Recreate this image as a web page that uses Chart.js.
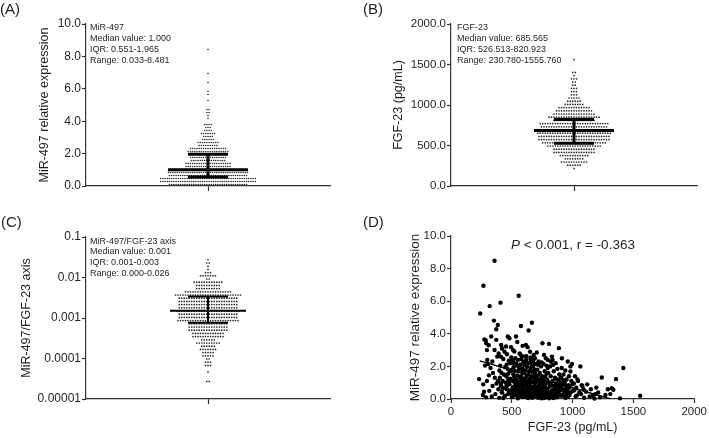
<!DOCTYPE html>
<html><head><meta charset="utf-8">
<script src="https://cdn.jsdelivr.net/npm/chart.js@4.4.1/dist/chart.umd.min.js"></script>
<style>
html,body{margin:0;padding:0;background:#fff;}
#wrap{position:relative;width:709px;height:438px;overflow:hidden;font-family:"Liberation Sans",Arial,sans-serif;color:#1f1f1f;}
canvas{position:absolute;}
.lbl{position:absolute;font-size:15px;line-height:18px;white-space:nowrap;}
.ann{position:absolute;font-size:9px;line-height:11px;white-space:nowrap;}
.ptxt{position:absolute;font-size:13.5px;line-height:16px;white-space:nowrap;text-align:center;width:220px;}
</style></head><body>
<div id="wrap">
  <canvas id="cA" width="340" height="205" style="left:0;top:0"></canvas>
  <canvas id="cB" width="344" height="205" style="left:365px;top:0"></canvas>
  <canvas id="cC" width="340" height="205" style="left:0;top:212px"></canvas>
  <canvas id="cD" width="344" height="226" style="left:365px;top:212px"></canvas>
  <div class="lbl" style="left:0;top:0">(A)</div>
  <div class="lbl" style="left:363px;top:0">(B)</div>
  <div class="lbl" style="left:1px;top:213px">(C)</div>
  <div class="lbl" style="left:363px;top:213px">(D)</div>
  <div class="ann" style="left:90px;top:21.5px">MiR-497<br>Median value: 1.000<br>IQR: 0.551-1.965<br>Range: 0.033-8.481</div>
  <div class="ann" style="left:457px;top:21.5px">FGF-23<br>Median value: 685.565<br>IQR: 526.513-820.923<br>Range: 230.780-1555.760</div>
  <div class="ann" style="left:90px;top:235.6px;line-height:10.7px">MiR-497/FGF-23 axis<br>Median value: 0.001<br>IQR: 0.001-0.003<br>Range: 0.000-0.026</div>
  <div class="ptxt" style="left:463px;top:237px"><i>P</i> &lt; 0.001, r = -0.363</div>
</div>
<script>
// ---------- DATA ----------
const fgfValues = [
 267,240,275,285,290,296,298,280,230.78,295,265,272,262,288,
 358,318,353,385,372,331,372,310,358,392,380,340,305,325,398,345,312,360,388,375,342,390,315,365,335,396,
 407,467,480,413,453,494,420,440,460,410,430,475,490,458,405,445,465,498,485,415,470,435,455,402,488,470,425,478,450,412,480,462,410,496,440,428,460,475,490,418,420,470,445,500,430,
 557,575,535,545,589,510,521,565,580,530,550,595,505,572,540,570,515,588,560,585,526,555,598,590,512,545,575,520,565,598,535,580,510,550,590,525,560,505,540,582,570,515,595,532,555,508,530,568,585,545,520,578,503,562,548,592,518,538,566,528,500,583,553,535,572,508,590,550,
 665,638,616,630,650,680,610,690,620,660,640,695,605,675,625,655,685,615,645,670,600,635,690,660,620,680,650,610,695,640,665,625,685,605,655,630,675,615,645,690,620,660,600,680,635,670,612,650,695,625,665,640,685,608,655,632,672,618,648,688,603,662,628,678,642,698,612,652,682,622,668,636,692,658,646,
 752,705,780,720,760,740,795,710,770,730,785,715,750,775,700,745,790,725,765,705,755,735,780,715,760,740,795,720,770,730,785,710,750,775,702,745,790,725,765,708,755,735,782,718,762,742,798,722,772,732,788,712,752,778,704,748,792,728,768,706,758,738,784,716,764,744,726,758,
 806,887,830,860,815,875,845,800,890,820,855,880,835,890,805,865,835,895,825,850,870,810,840,885,860,820,845,875,830,895,855,815,880,840,865,828,898,852,812,878,838,868,842,808,858,822,872,848,
 960,982,910,940,982,925,970,905,950,925,990,935,915,998,965,945,908,975,955,995,920,930,955,912,985,948,930,968,975,910,938,960,940,902,
 1064,1020,1040,1045,1010,1075,1080,1030,1090,1015,1005,1055,1070,1035,1025,1095,
 1120,1150,1110,1186,1165,1140,1180,1195,
 1240,1290,1210,1270,1225,
 1357,1322,1335,1390,1310,
 1417,1555.76
];
const mirValues = [
 6.95,5.25,3.65,3.6,3.42,3.0,2.4,2.05,1.22,1.1,0.9,0.45,0.25,0.1,
 8.481,5.7,4.81,4.54,4.28,3.83,3.63,3.3,3.01,2.8,2.6,2.3,2.15,1.9,1.75,1.6,1.45,1.3,1.12,0.95,0.8,0.6,0.5,0.3,0.15,0.07,
 5.91,3.83,3.73,3.32,3.22,3.18,3.1,2.9,2.75,2.6,2.45,2.35,2.2,2.1,2.05,1.95,1.85,1.78,1.7,1.6,1.55,1.5,1.4,1.3,1.25,1.2,1.1,1.05,1.0,0.95,0.9,0.85,0.8,2.55,0.7,0.65,0.6,0.52,0.5,0.42,0.4,0.3,0.2,0.12,0.06,
 6.33,4.48,3.83,3.5,3.26,3.0,2.91,2.8,2.65,2.5,2.4,2.3,2.2,2.12,2.05,2.0,1.95,1.88,1.85,1.8,1.72,1.7,1.65,1.6,1.52,1.45,1.4,1.35,1.3,1.25,1.2,1.15,1.1,1.05,1.0,0.98,0.95,2.35,0.9,0.88,0.85,2.25,0.8,0.78,0.75,0.72,0.7,2.75,0.65,0.62,0.6,2.45,0.55,0.52,0.5,0.48,0.45,2.15,0.4,0.36,0.35,0.3,0.28,0.22,0.2,0.15,0.12,0.05,
 4.68,4.2,3.32,3.18,2.9,2.7,2.6,2.5,2.4,2.3,2.2,2.15,2.1,2.02,1.98,1.9,1.82,1.75,1.7,1.65,1.58,1.5,1.45,1.4,1.35,1.3,1.25,1.2,1.15,1.1,1.05,1.02,0.98,0.95,2.45,0.9,2.35,0.85,0.82,0.8,2.62,0.75,0.72,0.7,0.68,0.65,2.28,0.6,0.58,0.56,2.12,0.52,0.5,0.48,2.55,0.44,0.42,0.4,0.38,0.35,0.33,0.3,0.28,0.25,0.22,0.2,0.18,0.15,0.12,0.1,0.08,0.06,1.62,1.08,0.9,
 3.42,2.85,2.5,2.3,2.15,2.0,1.9,1.8,1.7,1.6,1.55,1.45,1.4,1.35,1.28,1.25,1.2,1.15,1.1,1.05,1.0,0.97,0.95,2.1,0.9,0.87,2.4,0.82,0.8,0.77,2.05,0.72,0.7,0.67,0.65,2.25,0.6,0.58,2.7,0.54,0.52,0.5,0.48,0.47,0.44,0.42,0.4,0.38,0.37,0.35,0.33,0.3,0.28,0.26,0.24,0.23,0.2,0.19,0.17,0.15,0.13,0.12,0.1,0.08,0.06,0.05,1.12,0.88,
 3.38,3.12,2.6,2.2,2.0,1.85,1.7,1.6,1.5,1.4,1.3,1.2,1.1,1.05,1.0,0.95,2.4,0.9,0.85,0.82,0.8,0.75,2.1,0.7,0.65,2.3,0.6,0.55,0.52,0.5,0.45,0.42,0.4,0.35,0.32,0.3,0.25,0.22,0.2,0.15,0.12,0.1,0.06,0.04,1.25,0.88,0.68,0.48,
 2.3,2.0,1.9,1.75,1.69,1.5,1.4,1.3,1.2,1.15,1.1,1.0,0.95,0.9,0.85,0.8,0.75,0.7,0.65,2.15,0.58,0.55,0.5,2.5,0.42,0.4,0.35,0.32,0.25,0.2,0.18,0.12,0.07,0.9,
 2.0,1.4,1.2,1.1,0.95,0.85,0.8,0.7,0.6,0.55,0.5,0.4,0.3,0.22,0.15,0.08,
 0.9,0.6,0.45,0.3,0.2,0.15,0.033,0.7,
 1.32,0.6,0.4,0.25,0.1,
 1.22,0.67,0.57,0.04,0.3,
 1.9,0.2
];
// MiR-497/FGF-23 axis = ratio of the two measurements
const ratioValues = mirValues.map((m, i) => m / fgfValues[i]);

// [Q1, median, Q3]
const mirStats = [0.551, 1.000, 1.965];
const fgfStats = [526.513, 685.565, 820.923];
const ratioStats = [0.00076, 0.0015, 0.0034];

// regression line endpoints
const fitX = [236, 1315];
const fitY = [2.34, 0];

// tick values / labels
const mirTicks = [0, 2, 4, 6, 8, 10];
const mirTickLabels = ['0.0', '2.0', '4.0', '6.0', '8.0', '10.0'];
const fgfTicks = [0, 500, 1000, 1500, 2000];
const fgfTickLabels = ['0.0', '500.0', '1000.0', '1500.0', '2000.0'];
const ratioTicks = [0.00001, 0.0001, 0.001, 0.01, 0.1];
const ratioTickLabels = ['0.00001', '0.0001', '0.001', '0.01', '0.1'];
const dXTicks = [0, 500, 1000, 1500, 2000];
const dXTickLabels = ['0', '500', '1000', '1500', '2000'];

// ---------- RENDERING ----------
const FONT = '"Liberation Sans", Arial, sans-serif';
const TEXT = '#1f1f1f';
const AXIS = '#333';

function yScale(type, min, max, vals, labels, title, cfg) {
  return {
    type, min, max,
    afterBuildTicks: s => { s.ticks = vals.map(v => ({value: v, major: true})); },
    afterFit: s => { s.width = cfg.yAxisW; },
    title: {display: true, text: title, color: TEXT, font: {family: FONT, size: cfg.titleSize}, padding: {top: cfg.titlePad, bottom: 0}},
    ticks: {color: TEXT, font: {family: FONT, size: cfg.tickSize}, padding: 1, autoSkip: false, maxRotation: 0,
            callback: (v, i) => labels[i]},
    grid: {drawOnChartArea: false, drawTicks: true, tickLength: 4, tickColor: AXIS, tickWidth: 1.2},
    border: {color: AXIS, width: 1.2}
  };
}

function lineDs(w) {
  return {data: [], showLine: true, borderColor: '#000', borderWidth: w, pointRadius: 0, clip: false, order: 1};
}

function makeSwarm(id, values, stats, cfg) {
  const chart = new Chart(document.getElementById(id), {
    type: 'scatter',
    data: {datasets: [
      {data: values.map(v => ({x: 0, y: v})), pointRadius: cfg.dotR, pointBackgroundColor: '#2a2a2a', pointBorderWidth: 0, clip: false, order: 5},
      lineDs(cfg.barW), lineDs(cfg.barW), lineDs(cfg.barW), lineDs(cfg.barW)
    ]},
    options: {
      responsive: false, animation: false, events: [],
      plugins: {legend: {display: false}, tooltip: {enabled: false}},
      layout: {padding: cfg.padding},
      scales: {
        x: {
          type: 'linear', min: -1, max: 1,
          afterBuildTicks: s => { s.ticks = [{value: 0}]; },
          afterFit: s => { s.height = cfg.xAxisH; },
          ticks: {callback: () => '', font: {size: 8}},
          grid: {drawOnChartArea: false, drawTicks: true, tickLength: 5, tickColor: AXIS, tickWidth: 1.2},
          border: {color: AXIS, width: 1.2}
        },
        y: yScale(cfg.yType, cfg.yMin, cfg.yMax, cfg.yTicks, cfg.yLabels, cfg.title, cfg)
      }
    }
  });
  const xs = chart.scales.x, ys = chart.scales.y;
  const ppu = (xs.right - xs.left) / (xs.max - xs.min);
  const base = ys.bottom;
  const rows = {};
  values.forEach((v, i) => {
    const r = Math.floor((base - ys.getPixelForValue(v)) / cfg.rowPx);
    (rows[r] = rows[r] || []).push(i);
  });
  const pts = values.map(v => ({x: 0, y: v}));
  Object.keys(rows).forEach(r => {
    const idx = rows[r];
    const n = idx.length;
    const yv = ys.getValueForPixel(base - (Number(r) + 0.5) * cfg.rowPx);
    idx.forEach((k, j) => {
      pts[k].x = (j - (n - 1) / 2) * cfg.dxPx / ppu;
      pts[k].y = yv;
    });
  });
  const [q1, med, q3] = stats;
  const mh = cfg.medHalfPx / ppu, ih = cfg.iqrHalfPx / ppu;
  const ds = chart.data.datasets;
  ds[0].data = pts;
  ds[1].data = [{x: -mh, y: med}, {x: mh, y: med}];
  ds[2].data = [{x: -ih, y: q1}, {x: ih, y: q1}];
  ds[3].data = [{x: -ih, y: q3}, {x: ih, y: q3}];
  ds[4].data = [{x: 0, y: q1}, {x: 0, y: q3}];
  chart.update('none');
}

makeSwarm('cA', mirValues, mirStats, {
  padding: {left: 0, top: 24, right: 10, bottom: 0}, yAxisW: 86, xAxisH: 19,
  yType: 'linear', yMin: 0, yMax: 10, yTicks: mirTicks, yLabels: mirTickLabels,
  title: 'MiR-497 relative expression', titleSize: 12.5, titlePad: 37.5, tickSize: 12,
  dotR: 0.8, rowPx: 3, dxPx: 2.2, barW: 3, medHalfPx: 40, iqrHalfPx: 20
});
makeSwarm('cB', fgfValues, fgfStats, {
  padding: {left: 0, top: 24, right: 12, bottom: 0}, yAxisW: 86, xAxisH: 19,
  yType: 'linear', yMin: 0, yMax: 2000, yTicks: fgfTicks, yLabels: fgfTickLabels,
  title: 'FGF-23 (pg/mL)', titleSize: 12.5, titlePad: 26.5, tickSize: 11.5,
  dotR: 0.85, rowPx: 3.2, dxPx: 2.5, barW: 3, medHalfPx: 40, iqrHalfPx: 20
});
makeSwarm('cC', ratioValues, ratioStats, {
  padding: {left: 0, top: 25, right: 10, bottom: 0}, yAxisW: 86, xAxisH: 18,
  yType: 'logarithmic', yMin: 0.00001, yMax: 0.1, yTicks: ratioTicks, yLabels: ratioTickLabels,
  title: 'MiR-497/FGF-23 axis', titleSize: 12.5, titlePad: 19.5, tickSize: 12,
  dotR: 0.85, rowPx: 3.2, dxPx: 2.5, barW: 2, medHalfPx: 38, iqrHalfPx: 20
});

new Chart(document.getElementById('cD'), {
  type: 'scatter',
  data: {datasets: [
    {data: fgfValues.map((f, i) => ({x: f, y: mirValues[i]})), pointRadius: 2.2, pointBackgroundColor: '#000', pointBorderWidth: 0, clip: false, order: 2},
    {data: fitX.map((x, i) => ({x, y: fitY[i]})), showLine: true, borderColor: '#000', borderWidth: 1.5, pointRadius: 0, order: 1}
  ]},
  options: {
    responsive: false, animation: false, events: [],
    plugins: {legend: {display: false}, tooltip: {enabled: false}},
    layout: {padding: {left: 0, top: 24, right: 12, bottom: 0}},
    scales: {
      x: {
        type: 'linear', min: 0, max: 2000,
        afterBuildTicks: s => { s.ticks = dXTicks.map(v => ({value: v})); },
        afterFit: s => { s.height = 39; },
        title: {display: true, text: 'FGF-23 (pg/mL)', color: TEXT, font: {family: FONT, size: 12.5}, padding: {top: 0, bottom: 2.5}},
        ticks: {color: TEXT, font: {family: FONT, size: 11.5}, padding: 2, autoSkip: false, maxRotation: 0,
                callback: (v, i) => dXTickLabels[i]},
        grid: {drawOnChartArea: false, drawTicks: true, tickLength: 4, tickColor: AXIS, tickWidth: 1.2},
        border: {color: AXIS, width: 1.2}
      },
      y: yScale('linear', 0, 10, mirTicks, mirTickLabels, 'MiR-497 relative expression',
                {yAxisW: 86, titleSize: 13.5, titlePad: 41.9, tickSize: 11.5})
    }
  }
});
</script>
</body></html>
